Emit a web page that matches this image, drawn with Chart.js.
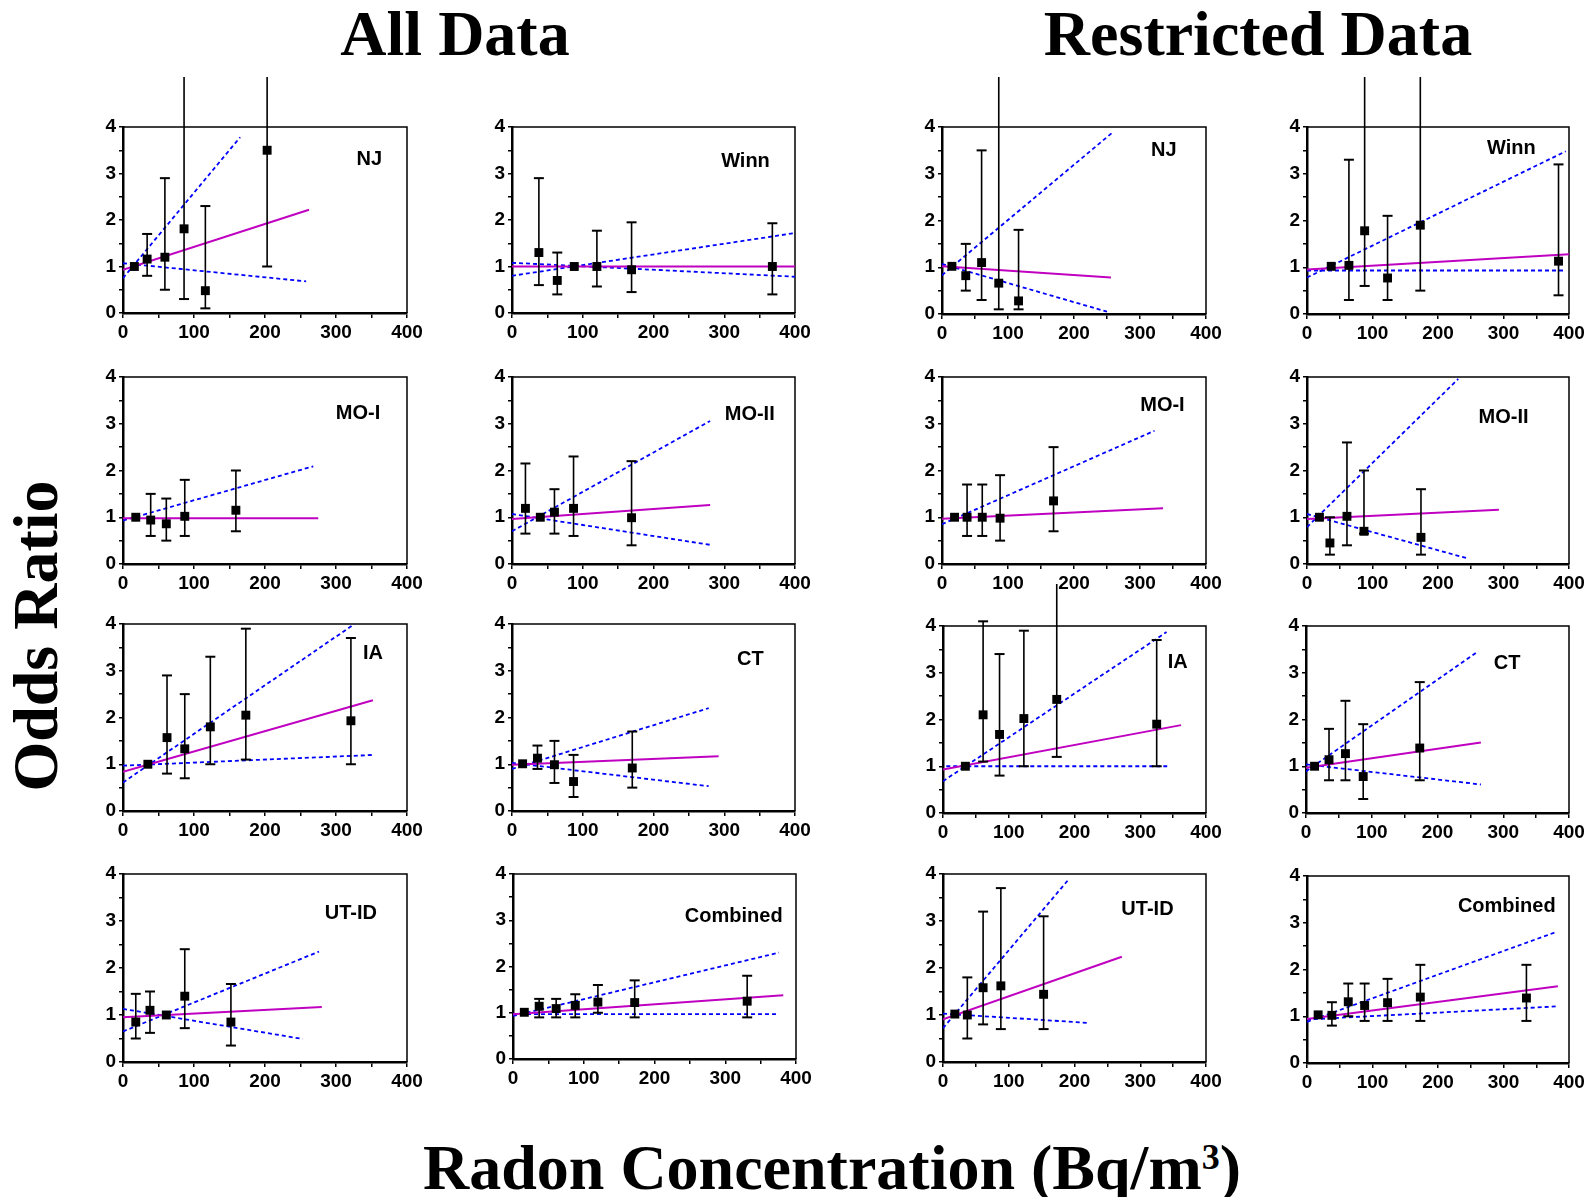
<!DOCTYPE html>
<html>
<head>
<meta charset="utf-8">
<title>Odds Ratio vs Radon Concentration</title>
<script src="https://cdn.jsdelivr.net/npm/chart.js@4.4.1/dist/chart.umd.min.js"></script>
<style>
    html, body { margin: 0; padding: 0; background: #fff; }
    #figure { position: relative; width: 1595px; height: 1197px; overflow: hidden; }
    #figure canvas { position: absolute; }
    .heading {
        position: absolute;
        font: bold 64px 'Liberation Serif', 'Times New Roman', serif;
        line-height: 64px;
        white-space: nowrap;
        color: #000;
    }
    .heading .sup { font-size: 36px; position: relative; top: -20px; }
</style>
</head>
<body>
<div id="figure">
    <div class="heading" style="left:455px; top:2px; transform:translateX(-50%);">All Data</div>
    <div class="heading" style="left:1258px; top:2px; transform:translateX(-50%);">Restricted Data</div>
    <div class="heading" style="left:36px; top:636px; transform:translate(-50%, -50%) rotate(-90deg);">Odds Ratio</div>
    <div class="heading" style="left:832px; top:1136px; transform:translateX(-50%);">Radon Concentration (Bq/m<span class="sup">3</span>)</div>
</div>
<script>
    // Upper limit used for confidence intervals that run off the top of the plot
    const OPEN = 6;

    // Each point row: [radon Bq/m3, odds ratio, lower CI, upper CI] (no CI on the reference category)
    // Each line: two [radon, OR] ends; fit is the ERR model, upper/lower are its 95% bounds

    // All data
    const njAllPoints = [[16, 1.0, null, null], [34, 1.16, 0.8, 1.7], [59, 1.2, 0.5, 2.9], [86, 1.81, 0.3, OPEN], [116, 0.48, 0.1, 2.3], [203, 3.5, 1.0, OPEN]];
    const njAllFit = [[0, 0.93], [262, 2.22]];
    const njAllUpper = [[0, 0.75], [165, 3.78]];
    const njAllLower = [[0, 1.07], [258, 0.68]];

    const winnAllPoints = [[38, 1.3, 0.6, 2.9], [64, 0.7, 0.4, 1.3], [88, 1.0, null, null], [120, 1.0, 0.57, 1.77], [169, 0.93, 0.45, 1.95], [368, 1.0, 0.4, 1.93]];
    const winnAllFit = [[0, 1.0], [400, 1.0]];
    const winnAllUpper = [[0, 0.8], [400, 1.72]];
    const winnAllLower = [[0, 1.08], [400, 0.78]];

    const moIAllPoints = [[18, 1.0, null, null], [39, 0.94, 0.6, 1.5], [61, 0.86, 0.5, 1.4], [87, 1.02, 0.6, 1.8], [159, 1.15, 0.7, 2.0]];
    const moIAllFit = [[0, 0.98], [275, 0.98]];
    const moIAllUpper = [[0, 0.93], [268, 2.09]];

    const moIIAllPoints = [[19, 1.19, 0.65, 2.15], [40, 1.0, null, null], [60, 1.11, 0.65, 1.6], [87, 1.19, 0.6, 2.3], [169, 0.99, 0.4, 2.2]];
    const moIIAllFit = [[0, 0.96], [280, 1.26]];
    const moIIAllUpper = [[0, 0.7], [280, 3.06]];
    const moIIAllLower = [[0, 1.07], [280, 0.41]];

    const iaAllPoints = [[35, 1.0, null, null], [62, 1.57, 0.8, 2.9], [87, 1.33, 0.7, 2.5], [123, 1.8, 1.0, 3.3], [173, 2.05, 1.1, 3.9], [321, 1.93, 1.0, 3.7]];
    const iaAllFit = [[0, 0.84], [352, 2.37]];
    const iaAllUpper = [[0, 0.61], [326, 4.0]];
    const iaAllLower = [[0, 0.97], [354, 1.2]];

    const ctAllPoints = [[15, 1.01, null, null], [36, 1.13, 0.9, 1.4], [60, 0.99, 0.6, 1.5], [87, 0.63, 0.3, 1.2], [170, 0.92, 0.5, 1.7]];
    const ctAllFit = [[0, 0.99], [292, 1.17]];
    const ctAllUpper = [[0, 0.9], [278, 2.2]];
    const ctAllLower = [[0, 1.03], [278, 0.53]];

    const utAllPoints = [[18, 0.85, 0.5, 1.45], [38, 1.1, 0.62, 1.5], [61, 1.0, null, null], [87, 1.4, 0.72, 2.4], [152, 0.85, 0.35, 1.66]];
    const utAllFit = [[0, 0.95], [280, 1.17]];
    const utAllUpper = [[0, 0.65], [276, 2.35]];
    const utAllLower = [[0, 1.13], [253, 0.49]];

    const combAllPoints = [[16, 1.01, null, null], [37, 1.14, 0.9, 1.3], [61, 1.09, 0.9, 1.3], [88, 1.16, 0.9, 1.4], [120, 1.23, 1.0, 1.6], [172, 1.22, 0.9, 1.7], [331, 1.25, 0.9, 1.8]];
    const combAllFit = [[0, 0.97], [382, 1.38]];
    const combAllUpper = [[0, 0.93], [376, 2.3]];
    const combAllLower = [[0, 0.97], [376, 0.97]];

    // Restricted data
    const njResPoints = [[15, 1.02, null, null], [36, 0.82, 0.5, 1.5], [60, 1.1, 0.3, 3.5], [86, 0.66, 0.1, OPEN], [116, 0.28, 0.1, 1.8]];
    const njResFit = [[0, 1.02], [256, 0.78]];
    const njResUpper = [[0, 0.83], [259, 3.89]];
    const njResLower = [[0, 1.07], [250, 0.05]];

    const winnResPoints = [[37, 1.02, null, null], [64, 1.04, 0.3, 3.3], [88, 1.78, 0.6, OPEN], [123, 0.77, 0.3, 2.1], [173, 1.9, 0.5, OPEN], [384, 1.13, 0.4, 3.2]];
    const winnResFit = [[0, 0.95], [400, 1.28]];
    const winnResUpper = [[0, 0.78], [395, 3.48]];
    const winnResLower = [[0, 0.93], [395, 0.93]];

    const moIResPoints = [[19, 1.0, null, null], [38, 1.0, 0.6, 1.7], [61, 1.0, 0.6, 1.7], [88, 0.98, 0.5, 1.9], [169, 1.35, 0.7, 2.5]];
    const moIResFit = [[0, 0.97], [335, 1.19]];
    const moIResUpper = [[0, 0.85], [322, 2.85]];

    const moIIResPoints = [[19, 1.0, null, null], [35, 0.45, 0.2, 1.0], [61, 1.02, 0.4, 2.6], [87, 0.7, 0.65, 2.0], [174, 0.57, 0.2, 1.6]];
    const moIIResFit = [[0, 0.96], [293, 1.16]];
    const moIIResUpper = [[0, 0.79], [231, 3.96]];
    const moIIResLower = [[0, 1.07], [245, 0.12]];

    const iaResPoints = [[34, 1.0, null, null], [61, 2.1, 1.1, 4.1], [86, 1.68, 0.8, 3.4], [123, 2.02, 1.0, 3.9], [173, 2.43, 1.2, 4.9], [325, 1.9, 1.0, 3.7]];
    const iaResFit = [[0, 0.93], [362, 1.88]];
    const iaResUpper = [[0, 0.68], [340, 3.87]];
    const iaResLower = [[5, 1.0], [341, 1.0]];

    const ctResPoints = [[13, 1.0, null, null], [35, 1.14, 0.7, 1.8], [60, 1.27, 0.7, 2.4], [87, 0.78, 0.3, 1.9], [173, 1.39, 0.7, 2.8]];
    const ctResFit = [[0, 0.97], [266, 1.51]];
    const ctResUpper = [[0, 0.89], [262, 3.46]];
    const ctResLower = [[0, 1.04], [266, 0.61]];

    const utResPoints = [[18, 1.02, null, null], [37, 1.0, 0.5, 1.8], [61, 1.58, 0.8, 3.2], [88, 1.62, 0.7, 3.7], [153, 1.44, 0.7, 3.1]];
    const utResFit = [[0, 0.91], [272, 2.24]];
    const utResUpper = [[0, 0.72], [192, 3.9]];
    const utResLower = [[0, 1.03], [223, 0.83]];

    const combResPoints = [[17, 1.03, null, null], [38, 1.02, 0.8, 1.3], [63, 1.31, 1.0, 1.7], [88, 1.23, 0.9, 1.7], [123, 1.29, 0.9, 1.8], [173, 1.41, 0.9, 2.1], [335, 1.39, 0.9, 2.1]];
    const combResFit = [[0, 0.94], [383, 1.64]];
    const combResUpper = [[0, 0.88], [380, 2.8]];
    const combResLower = [[0, 0.93], [380, 1.21]];

    // Chart Colors
    const chartColors = {
        marker: '#000000',
        fit: '#c000c0',
        bound: '#0000ff'
    };

    // Space around each plot frame for ticks and labels
    const PAD = { left: 50, top: 50, right: 24, bottom: 30 };

    // box: plot frame [left, top, width, height] on the page; tag: [text, radon, OR]
    const panels = [
        { box: [123, 127, 284, 186], tag: ['NJ', 347, 3.3], points: njAllPoints, fit: njAllFit, upper: njAllUpper, lower: njAllLower },
        { box: [512, 127, 283, 186], tag: ['Winn', 330, 3.25], points: winnAllPoints, fit: winnAllFit, upper: winnAllUpper, lower: winnAllLower },
        { box: [942, 127, 264, 187], tag: ['NJ', 336, 3.5], points: njResPoints, fit: njResFit, upper: njResUpper, lower: njResLower },
        { box: [1307, 127, 262, 187], tag: ['Winn', 312, 3.54], points: winnResPoints, fit: winnResFit, upper: winnResUpper, lower: winnResLower },

        { box: [123, 377, 284, 187], tag: ['MO-I', 331, 3.21], points: moIAllPoints, fit: moIAllFit, upper: moIAllUpper, lower: null },
        { box: [512, 377, 283, 187], tag: ['MO-II', 336, 3.19], points: moIIAllPoints, fit: moIIAllFit, upper: moIIAllUpper, lower: moIIAllLower },
        { box: [942, 377, 264, 187], tag: ['MO-I', 334, 3.4], points: moIResPoints, fit: moIResFit, upper: moIResUpper, lower: null },
        { box: [1307, 377, 262, 187], tag: ['MO-II', 300, 3.14], points: moIIResPoints, fit: moIIResFit, upper: moIIResUpper, lower: moIIResLower },

        { box: [123, 624, 284, 187], tag: ['IA', 352, 3.37], points: iaAllPoints, fit: iaAllFit, upper: iaAllUpper, lower: iaAllLower },
        { box: [512, 624, 283, 187], tag: ['CT', 337, 3.24], points: ctAllPoints, fit: ctAllFit, upper: ctAllUpper, lower: ctAllLower },
        { box: [943, 626, 263, 187], tag: ['IA', 357, 3.21], points: iaResPoints, fit: iaResFit, upper: iaResUpper, lower: iaResLower },
        { box: [1306, 626, 263, 187], tag: ['CT', 306, 3.19], points: ctResPoints, fit: ctResFit, upper: ctResUpper, lower: ctResLower },

        { box: [123, 874, 284, 188], tag: ['UT-ID', 321, 3.16], points: utAllPoints, fit: utAllFit, upper: utAllUpper, lower: utAllLower },
        { box: [513, 874, 283, 185], tag: ['Combined', 312, 3.09], points: combAllPoints, fit: combAllFit, upper: combAllUpper, lower: combAllLower },
        { box: [943, 874, 263, 188], tag: ['UT-ID', 311, 3.25], points: utResPoints, fit: utResFit, upper: utResUpper, lower: utResLower },
        { box: [1307, 876, 262, 187], tag: ['Combined', 305, 3.35], points: combResPoints, fit: combResFit, upper: combResUpper, lower: combResLower }
    ];

    const tickFont = { family: "'Liberation Sans', Arial, sans-serif", size: 19, weight: 'bold' };

    // Top and right edges of the plot box
    const frameLines = {
        id: 'frameLines',
        beforeDatasetsDraw(chart) {
            const a = chart.chartArea;
            const ctx = chart.ctx;
            ctx.save();
            ctx.strokeStyle = '#000';
            ctx.lineWidth = 1.5;
            ctx.beginPath();
            ctx.moveTo(a.left, a.top);
            ctx.lineTo(a.right, a.top);
            ctx.lineTo(a.right, a.bottom);
            ctx.stroke();
            ctx.restore();
        }
    };

    // Study name written inside the plot
    const panelTag = {
        id: 'panelTag',
        afterDatasetsDraw(chart, args, opts) {
            const ctx = chart.ctx;
            ctx.save();
            ctx.font = "bold 20px 'Liberation Sans', Arial, sans-serif";
            ctx.fillStyle = '#000';
            ctx.textAlign = 'center';
            ctx.textBaseline = 'middle';
            ctx.fillText(opts.text, chart.scales.x.getPixelForValue(opts.x), chart.scales.y.getPixelForValue(opts.y));
            ctx.restore();
        }
    };

    const toXY = pairs => pairs.map(p => ({ x: p[0], y: p[1] }));

    function buildPanel(p) {
        const [left, top, width, height] = p.box;
        const w = PAD.left + width + PAD.right;
        const h = PAD.top + height + PAD.bottom;
        const canvas = document.createElement('canvas');
        canvas.width = w;
        canvas.height = h;
        canvas.style.left = (left - PAD.left) + 'px';
        canvas.style.top = (top - PAD.top) + 'px';
        canvas.style.width = w + 'px';
        canvas.style.height = h + 'px';
        document.getElementById('figure').appendChild(canvas);

        // Confidence intervals: one segment per point, broken by a null
        const bars = [];
        p.points.forEach(r => {
            if (r[2] === null) return;
            bars.push({ x: r[0], y: r[2] }, { x: r[0], y: r[3] }, { x: r[0], y: null });
        });

        const datasets = [
            {
                data: p.points.map(r => ({ x: r[0], y: r[1] })),
                showLine: false,
                pointStyle: 'rect',
                pointRadius: 6.3,
                pointBackgroundColor: chartColors.marker,
                pointBorderWidth: 0
            },
            {
                data: bars,
                borderColor: chartColors.marker,
                borderWidth: 1.6,
                spanGaps: false,
                pointStyle: 'line',
                pointRadius: 5,
                pointBorderWidth: 2,
                pointBorderColor: chartColors.marker,
                clip: false
            },
            {
                data: toXY(p.fit),
                borderColor: chartColors.fit,
                borderWidth: 2,
                pointRadius: 0
            },
            {
                data: toXY(p.upper),
                borderColor: chartColors.bound,
                borderWidth: 1.8,
                borderDash: [4, 3],
                pointRadius: 0
            }
        ];
        if (p.lower) {
            datasets.push({
                data: toXY(p.lower),
                borderColor: chartColors.bound,
                borderWidth: 1.8,
                borderDash: [4, 3],
                pointRadius: 0
            });
        }

        new Chart(canvas, {
            type: 'line',
            data: { datasets: datasets },
            plugins: [frameLines, panelTag],
            options: {
                responsive: false,
                animation: false,
                devicePixelRatio: 1,
                events: [],
                layout: { padding: { left: 0, top: PAD.top, right: PAD.right, bottom: 0 } },
                plugins: {
                    legend: { display: false },
                    tooltip: { enabled: false },
                    panelTag: { text: p.tag[0], x: p.tag[1], y: p.tag[2] }
                },
                scales: {
                    x: {
                        type: 'linear',
                        min: 0,
                        max: 400,
                        afterFit: s => { s.height = PAD.bottom; },
                        border: { display: true, color: '#000', width: 2.5 },
                        grid: { drawOnChartArea: false, drawTicks: true, tickLength: 5, color: '#000', lineWidth: 1.5 },
                        ticks: {
                            stepSize: 50,
                            autoSkip: false,
                            maxRotation: 0,
                            padding: 3,
                            color: '#000',
                            font: tickFont,
                            callback: v => (v % 100 === 0 ? v : '')
                        }
                    },
                    y: {
                        min: 0,
                        max: 4,
                        afterFit: s => { s.width = PAD.left; },
                        border: { display: true, color: '#000', width: 2.5 },
                        grid: { drawOnChartArea: false, drawTicks: true, tickLength: 4, color: '#000', lineWidth: 1.5 },
                        ticks: {
                            stepSize: 0.5,
                            autoSkip: false,
                            padding: 3,
                            color: '#000',
                            font: tickFont,
                            callback: v => (v % 1 === 0 ? v : '')
                        }
                    }
                }
            }
        });
    }

    panels.forEach(buildPanel);
</script>
</body>
</html>
